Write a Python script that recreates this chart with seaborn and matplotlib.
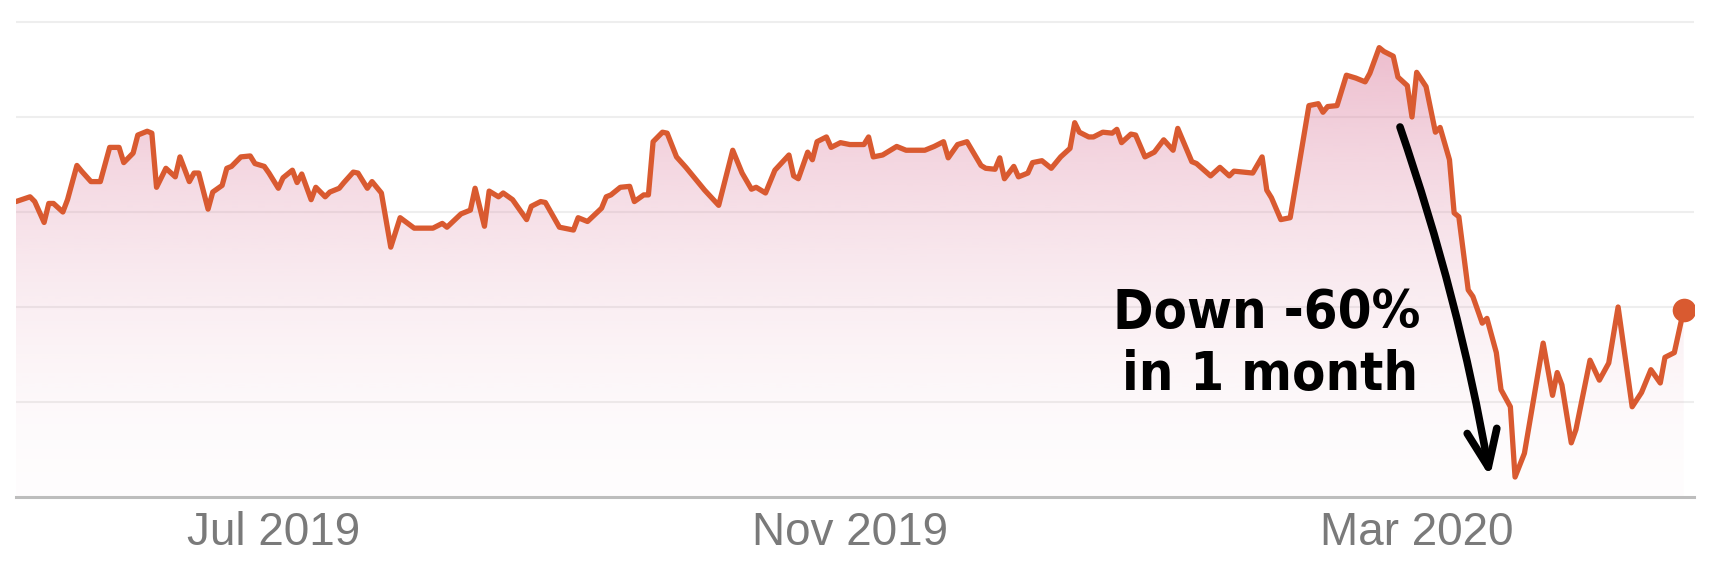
import numpy as np
import pandas as pd
import matplotlib
matplotlib.use("Agg")
import matplotlib.pyplot as plt
import matplotlib.dates as mdates
import seaborn as sns

# ---- data ----
start_date = "2019-05-07"
day_offsets = [
    0, 3, 4, 6, 7, 8, 10, 11, 13, 14, 16, 18, 20, 22, 23, 25, 26, 28, 29, 30,
    32, 34, 35, 37, 38, 39, 41, 42, 44, 45, 46, 48, 50, 51, 53, 54, 56, 57, 59, 60,
    61, 63, 64, 66, 67, 69, 70, 72, 73, 75, 76, 78, 80, 82, 85, 89, 91, 92, 95, 97,
    98, 100, 101, 103, 104, 106, 109, 110, 112, 113, 116, 119, 120, 122, 125, 126, 127, 129, 131, 132,
    134, 135, 136, 138, 139, 141, 143, 147, 150, 153, 155, 157, 158, 160, 162, 165, 166, 167, 169, 170,
    171, 173, 174, 176, 178, 181, 182, 183, 185, 188, 190, 194, 196, 198, 199, 201, 203, 206, 207, 209,
    210, 211, 213, 214, 216, 217, 219, 221, 223, 225, 226, 227, 229, 230, 232, 234, 235, 236, 238, 239,
    241, 243, 245, 247, 248, 251, 252, 255, 257, 259, 260, 262, 264, 266, 267, 268, 270, 272, 276, 278,
    279, 280, 282, 284, 286, 288, 289, 291, 292, 294, 295, 297, 298, 299, 301, 303, 304, 306, 307, 308,
    310, 311, 313, 314, 316, 317, 319, 320, 322, 326, 328, 329, 330, 332, 333, 336, 338, 340, 342, 345,
    347, 349, 351, 352, 354, 356,
]
prices = [
    61.1, 61.6, 61.1, 58.9, 60.9, 60.9, 60.0, 61.3, 64.9, 64.3, 63.2, 63.2, 66.8, 66.8, 65.2, 66.2, 68.1, 68.5, 68.3, 62.6,
    64.6, 63.7, 65.8, 63.2, 64.1, 64.1, 60.3, 62.1, 62.8, 64.6, 64.8, 65.8, 65.9, 65.1, 64.8, 64.1, 62.5, 63.6, 64.4, 63.1,
    64.0, 61.3, 62.6, 61.6, 62.1, 62.5, 63.1, 64.2, 64.1, 62.5, 63.2, 62.0, 56.3, 59.4, 58.3, 58.3, 58.8, 58.4, 59.8, 60.2,
    62.5, 58.5, 62.2, 61.6, 62.0, 61.3, 59.2, 60.6, 61.1, 61.0, 58.4, 58.1, 59.4, 59.0, 60.4, 61.6, 61.8, 62.6, 62.7, 61.1,
    61.8, 61.8, 67.4, 68.4, 68.3, 65.8, 64.7, 62.3, 60.7, 66.5, 64.1, 62.4, 62.6, 62.0, 64.4, 66.0, 63.8, 63.5, 66.3, 65.5,
    67.4, 67.9, 66.8, 67.3, 67.1, 67.1, 67.9, 65.8, 66.0, 66.9, 66.5, 66.5, 66.9, 67.4, 65.7, 67.1, 67.4, 64.9, 64.6, 64.5,
    65.7, 63.5, 64.8, 63.7, 64.1, 65.2, 65.4, 64.6, 65.8, 66.7, 69.4, 68.4, 67.9, 67.9, 68.4, 68.3, 68.7, 67.3, 68.2, 68.1,
    65.8, 66.3, 67.6, 66.5, 68.8, 65.3, 65.1, 63.8, 64.7, 63.8, 64.3, 64.2, 64.1, 65.8, 62.3, 61.5, 59.2, 59.4, 71.2, 71.4,
    70.5, 71.1, 71.2, 74.4, 74.1, 73.7, 74.6, 77.3, 76.9, 76.4, 74.2, 73.3, 70.0, 74.7, 73.2, 68.4, 68.9, 65.5, 59.9, 59.5,
    51.8, 51.1, 48.3, 48.8, 45.2, 41.3, 39.5, 32.1, 34.6, 46.2, 40.7, 43.1, 41.8, 35.7, 37.1, 44.4, 42.3, 44.1, 50.0, 39.5,
    41.0, 43.4, 42.0, 44.7, 45.2, 49.7,
]
tick_dates = ["2019-07-01", "2019-11-01", "2020-03-01"]
tick_labels = ["Jul 2019", "Nov 2019", "Mar 2020"]
grid_values = [40, 50, 60, 70, 80]
annotation_lines = ["Down -60%", "in 1 month"]

# ---- figure ----
W, H, DPI = 1716, 566, 100
sns.set_theme(style="white")
plt.rcParams["font.family"] = ["Liberation Sans", "DejaVu Sans"]

start = pd.Timestamp(start_date)
df = pd.DataFrame({
    "date": start + pd.to_timedelta(day_offsets, unit="D"),
    "price": prices,
})

fig = plt.figure(figsize=(W / DPI, H / DPI), dpi=DPI)
fig.patch.set_facecolor("white")
ax = fig.add_axes([16 / W, 69 / H, (1694 - 16) / W, 497 / H])
ax.set_facecolor("white")

line_color = "#d95a30"
ymin, ymax = 30, 30 + 497 / 9.5
x0 = start
x1 = start + pd.Timedelta(days=358.2)

# gradient fill under the line (strong near the top, fading to white)
poly = ax.fill_between(df["date"], df["price"], ymin, facecolor="none", edgecolor="none")
n = 256
grad = np.zeros((n, 1, 4))
grad[:, 0, :3] = np.array([222, 135, 165]) / 255.0
t = np.linspace(0, 1, n)
grad[:, 0, 3] = 0.62 * (1 - t) ** 1.7 + 0.02
xn0, xn1 = mdates.date2num(x0), mdates.date2num(x1)
im = ax.imshow(grad, aspect="auto", extent=[xn0, xn1, ymin, ymax], origin="upper", zorder=1,
               interpolation="bilinear")
im.set_clip_path(poly.get_paths()[0], transform=ax.transData)

for g in grid_values:
    ax.axhline(g, color="#eeeeee", lw=1.5, zorder=0.5)

sns.lineplot(data=df, x="date", y="price", ax=ax, color=line_color, linewidth=3.8, zorder=3)
ax.plot(df["date"].iloc[-1], df["price"].iloc[-1], "o", color=line_color, ms=17, zorder=4, mec="none")

ax.set_xlim(x0, x1)
ax.set_ylim(ymin, ymax)
ax.set_xlabel("")
ax.set_ylabel("")
ax.set_yticks([])
ax.set_xticks(pd.to_datetime(tick_dates))
ax.set_xticklabels(tick_labels, fontsize=33, color="#7a7a7a")
ax.tick_params(axis="x", length=0, pad=10)
for s in ["top", "right", "left"]:
    ax.spines[s].set_visible(False)
ax.spines["bottom"].set_color("#bdbdbd")
ax.spines["bottom"].set_linewidth(2.2)
ax.spines["bottom"].set_zorder(5)

# hand-drawn style annotation
font_ann = ["DejaVu Sans"]
ax.text(1420 / W, 1 - 313 / H, annotation_lines[0], transform=fig.transFigure, ha="right", va="center",
        fontsize=39, fontweight="bold", fontstretch="condensed", color="black", family=font_ann)
ax.text(1418 / W, 1 - 375 / H, annotation_lines[1], transform=fig.transFigure, ha="right", va="center",
        fontsize=39, fontweight="bold", fontstretch="condensed", color="black", family=font_ann)
ax.annotate("", xy=(1490, H - 477), xycoords="figure pixels",
            xytext=(1400, H - 127), textcoords="figure pixels",
            arrowprops=dict(arrowstyle="->,head_length=2.2,head_width=0.9", color="black", lw=5.5,
                            connectionstyle="arc3,rad=-0.04", shrinkA=0, shrinkB=0,
                            capstyle="round", joinstyle="round"),
            zorder=6)

fig.savefig("out.png", dpi=DPI, facecolor="white")
